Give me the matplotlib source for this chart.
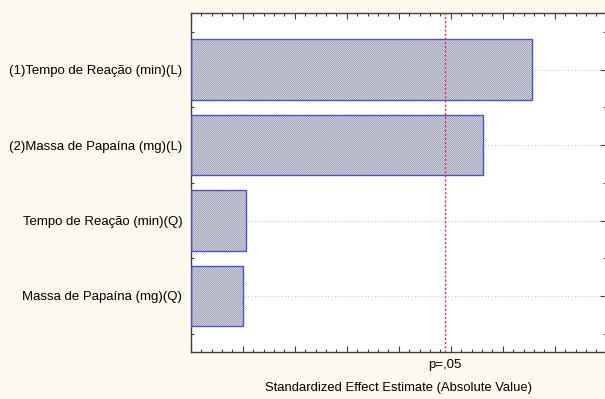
import matplotlib.pyplot as plt
import numpy as np
from matplotlib.ticker import MultipleLocator, NullFormatter

plt.rcParams['font.family'] = ['Liberation Sans', 'DejaVu Sans']

# Pareto chart of standardized effects
effects = ['(1)Tempo de Reação (min)(L)',
           '(2)Massa de Papaína (mg)(L)',
           'Tempo de Reação (min)(Q)',
           'Massa de Papaína (mg)(Q)']
values = [3.285, 2.813, 0.529, 0.503]
t_crit = 2.4469  # p=,05
xmax = 3.993

bg = '#fcf9ee'
fig = plt.figure(figsize=(6.05, 3.99), dpi=100, facecolor=bg)
W, H = 605, 399
ax = fig.add_axes([190.7 / W, 1 - 352.3 / H, (606 - 190.7) / W, (352.3 - 13.3) / H])
ax.set_facecolor('white')

y = np.arange(len(effects))
for yy in y:
    ax.axhline(yy, color='#c8c8c8', lw=0.8, ls=(0, (1, 2)), zorder=0)

plt.rcParams['hatch.linewidth'] = 0.6
ax.barh(y, values, height=0.805, color='white', edgecolor='#8486a6',
        hatch='/' * 16, linewidth=0, zorder=2)
ax.barh(y, values, height=0.805, fill=False, edgecolor='#4a4fd0',
        linewidth=1.0, zorder=3)

ax.axvline(t_crit, color='#d8305a', lw=1.0, ls=(0, (1.5, 1.5)), zorder=4)

ax.set_xlim(0, xmax)
ax.set_ylim(3.748, -0.748)
ax.set_yticks(y)
ax.set_yticklabels(effects, fontsize=9.5)
ax.yaxis.set_minor_locator(MultipleLocator(0.5))
ax.xaxis.set_major_locator(MultipleLocator(0.5))
ax.xaxis.set_minor_locator(MultipleLocator(0.1))
ax.xaxis.set_major_formatter(NullFormatter())
ax.tick_params(which='both', direction='in', top=True, right=True,
               color='#404040', width=0.8)
ax.tick_params(which='major', length=4)
ax.tick_params(which='minor', length=2)
ax.tick_params(axis='y', pad=6, colors='#404040', labelcolor='black')
for s in ax.spines.values():
    s.set_color('#404040')
    s.set_linewidth(1.0)

ax.text(t_crit, -0.02, 'p=,05', transform=ax.get_xaxis_transform(),
        ha='center', va='top', fontsize=9.5)
ax.set_xlabel('Standardized Effect Estimate (Absolute Value)', fontsize=9.4,
              labelpad=18)

fig.savefig('out.png', dpi=100, facecolor=bg)
